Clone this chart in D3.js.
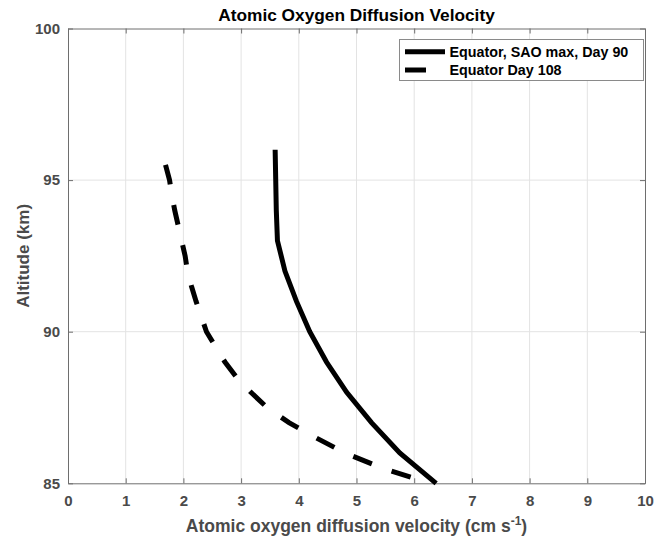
<!DOCTYPE html>
<html>
<head>
<meta charset="utf-8">
<script src="https://cdn.jsdelivr.net/npm/d3@7"></script>
<style>
  body { margin: 0; background: #fff; }
  svg { font-family: "Liberation Sans", Arial, sans-serif; }
</style>
</head>
<body>
<svg id="chart"></svg>
<script>
// altitude (km) and velocity (cm/s)
var altSolid = [85, 86, 87, 88, 89, 90, 91, 92, 93, 94, 95, 96];
var velSolid = [6.38, 5.75, 5.26, 4.83, 4.48, 4.19, 3.96, 3.76, 3.63, 3.61, 3.60, 3.59];

// dashed curve listed from the top down, the order it was plotted in
var altDashed = [95.5, 95, 94.5, 94, 93.5, 93, 92.5, 92, 91.5, 91, 90.5, 90,
                 89.5, 89, 88.5, 88, 87.5, 87, 86.5, 86, 85.5, 85];
var velDashed = [1.69, 1.76, 1.80, 1.85, 1.91, 1.97, 2.03, 2.07, 2.14, 2.22, 2.31, 2.40,
                 2.56, 2.72, 2.92, 3.17, 3.45, 3.83, 4.30, 4.80, 5.45, 6.28];

var xTicks = [0, 1, 2, 3, 4, 5, 6, 7, 8, 9, 10];
var yTicks = [85, 90, 95, 100];
var seriesNames = ["Equator, SAO max, Day 90", "Equator Day 108"];

var width = 654, height = 539;
var margin = { left: 68, right: 9, top: 28.5, bottom: 55.7 };

var svg = d3.select("#chart")
    .attr("width", width)
    .attr("height", height);

var x = d3.scaleLinear().domain([0, 10]).range([margin.left, width - margin.right]);
var y = d3.scaleLinear().domain([85, 100]).range([height - margin.bottom, margin.top]);

// grid
var grid = svg.append("g").attr("class", "grid");
grid.selectAll(".gx")
    .data(xTicks.slice(1, -1)).enter()
    .append("line")
    .attr("x1", d => x(d)).attr("x2", d => x(d))
    .attr("y1", y(85)).attr("y2", y(100))
    .attr("stroke", "#e3e3e3").attr("stroke-width", 1);
grid.selectAll(".gy")
    .data(yTicks.slice(1, -1)).enter()
    .append("line")
    .attr("x1", x(0)).attr("x2", x(10))
    .attr("y1", d => y(d)).attr("y2", d => y(d))
    .attr("stroke", "#e3e3e3").attr("stroke-width", 1);

// axes (ticks inward, box on)
var axisColor = "#6e6e6e";
var labelColor = "#4a4a4a";
function styleAxis(g) {
    g.select(".domain").attr("stroke", axisColor);
    g.selectAll(".tick line").attr("stroke", axisColor);
    g.selectAll(".tick text")
        .attr("fill", labelColor)
        .style("font-size", "15px")
        .style("font-weight", "bold");
}
svg.append("g")
    .attr("transform", "translate(0," + y(85) + ")")
    .call(d3.axisBottom(x).tickValues(xTicks).tickSizeInner(-5).tickSizeOuter(0).tickPadding(12))
    .call(styleAxis);
svg.append("g")
    .attr("transform", "translate(0," + y(100) + ")")
    .call(d3.axisTop(x).tickValues(xTicks).tickSizeInner(-5).tickSizeOuter(0).tickFormat(""))
    .call(styleAxis);
svg.append("g")
    .attr("transform", "translate(" + x(0) + ",0)")
    .call(d3.axisLeft(y).tickValues(yTicks).tickSizeInner(-5).tickSizeOuter(0).tickPadding(8))
    .call(styleAxis);
svg.append("g")
    .attr("transform", "translate(" + x(10) + ",0)")
    .call(d3.axisRight(y).tickValues(yTicks).tickSizeInner(-5).tickSizeOuter(0).tickFormat(""))
    .call(styleAxis);

// lines
var line = d3.line()
    .x(d => x(d[1]))
    .y(d => y(d[0]));

svg.append("path")
    .datum(d3.zip(altSolid, velSolid))
    .attr("d", line)
    .attr("fill", "none")
    .attr("stroke", "#000")
    .attr("stroke-width", 5);

svg.append("path")
    .datum(d3.zip(altDashed, velDashed))
    .attr("d", line)
    .attr("fill", "none")
    .attr("stroke", "#000")
    .attr("stroke-width", 5)
    .attr("stroke-dasharray", "20,21");

// title and axis labels
svg.append("text")
    .attr("x", (x(0) + x(10)) / 2)
    .attr("y", 21)
    .attr("text-anchor", "middle")
    .style("font-size", "17.3px")
    .style("font-weight", "bold")
    .attr("fill", "#000")
    .text("Atomic Oxygen Diffusion Velocity");

var xl = svg.append("text")
    .attr("x", (x(0) + x(10)) / 2)
    .attr("y", 532)
    .attr("text-anchor", "middle")
    .style("font-size", "17.5px")
    .style("font-weight", "bold")
    .attr("fill", labelColor);
xl.append("tspan").text("Atomic oxygen diffusion velocity (cm s");
xl.append("tspan").attr("dy", -7).style("font-size", "12px").text("-1");
xl.append("tspan").attr("dy", 7).text(")");

svg.append("text")
    .attr("transform", "translate(29," + (y(92.5)) + ") rotate(-90)")
    .attr("text-anchor", "middle")
    .style("font-size", "17px")
    .style("font-weight", "bold")
    .attr("fill", labelColor)
    .text("Altitude (km)");

// legend
var legend = svg.append("g");
legend.append("rect")
    .attr("x", 399.5).attr("y", 39.5)
    .attr("width", 244).attr("height", 41)
    .attr("fill", "#fff")
    .attr("stroke", "#8a8a8a").attr("stroke-width", 1);

var legendRows = legend.selectAll(".row")
    .data(seriesNames).enter()
    .append("g")
    .attr("transform", (d, i) => "translate(405," + (51.7 + i * 18.3) + ")");
legendRows.append("line")
    .attr("x1", 0).attr("x2", 40)
    .attr("stroke", "#000").attr("stroke-width", 5)
    .attr("stroke-dasharray", (d, i) => i == 1 ? "21,40" : null);
legendRows.append("text")
    .attr("x", 44.5).attr("dy", "0.35em")
    .style("font-size", "14.3px")
    .style("font-weight", "bold")
    .attr("fill", "#000")
    .text(d => d);
</script>
</body>
</html>
